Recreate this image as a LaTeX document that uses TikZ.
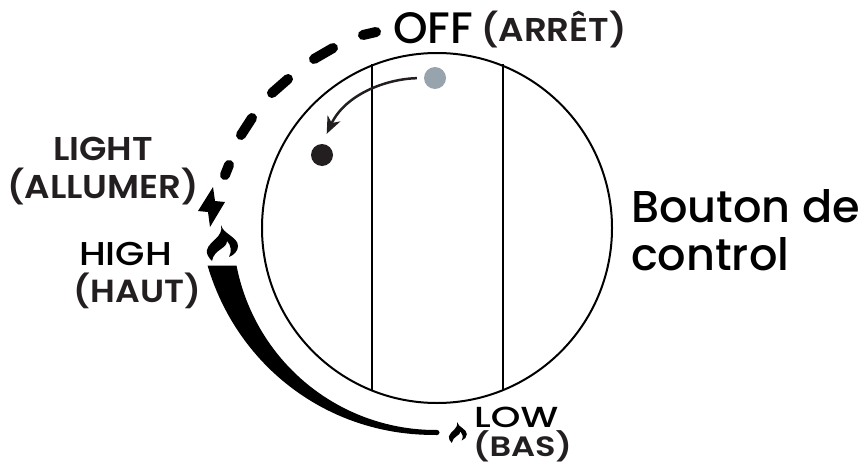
\documentclass[tikz,border=0pt]{standalone}
\usepackage{fontspec}
\setmainfont{Poppins}
\newfontfamily\semif{Poppins SemiBold}[FakeStretch=1.08]
\newfontfamily\medf{Poppins Medium}
\newfontfamily\medwide{Poppins Medium}[FakeStretch=1.15]
\newfontfamily\lowmed{Poppins Medium}[FakeStretch=1.3]
\newfontfamily\lowsemi{Poppins SemiBold}[FakeStretch=1.2]
\usetikzlibrary{arrows.meta}
\tikzset{
 x=1pt,y=-1pt,
 lab/.style={inner sep=0pt,anchor=base,font=\fontsize{33}{36}\semif,text=ink},
 medlab/.style={inner sep=0pt,anchor=base,font=\fontsize{33}{36}\medwide,text=black},
 big/.style={inner sep=0pt,anchor=base west,font=\fontsize{44.6}{50}\medf,text=black},
 dashpart/.style={line width=10pt,line cap=round},
 dot/.style={circle,inner sep=0pt,minimum size=22pt},
}
\definecolor{dotgray}{HTML}{97A3AD}
\definecolor{ink}{HTML}{231F20}
\newcommand{\flamepath}{(0,0) .. controls (2,9) and (17,12) .. (17,21) .. controls (17,26) and (13,30) .. (8,32) .. controls (11,26) and (10,20) .. (6,16) .. controls (6,24) and (-7,24) .. (-9,36) .. controls (-12,33) and (-15,29) .. (-14,25) .. controls (-12,16) and (3,12) .. (0,0) -- cycle}
\begin{document}
\begin{tikzpicture}
\useasboundingbox (0,0) rectangle (862,463);
% dial
\node[circle,draw,line width=2pt,minimum size=350pt,inner sep=0pt] (dial) at (437,228) {};
\coordinate (lt) at (372,64); \coordinate (lb) at (372,391);
\coordinate (rt) at (503,64); \coordinate (rb) at (503,391);
\draw[line width=2pt] (lt) -- (lb);
\draw[line width=2pt] (rt) -- (rb);
% dots and arrow
\node[dot,fill=dotgray] (g) at (435,78) {};
\node[dot,fill=ink] (b) at (322,155) {};
\draw[ink,line width=2.5pt,-{Stealth[length=17pt,width=14pt,inset=5pt]},shorten <=7pt,shorten >=11pt] (g.west) .. controls (385,79) and (345,95) .. (b.north);
% dashes
\draw[dashpart] (363,35) -- (376,32);
\draw[dashpart] (314,59) -- (333,48);
\draw[dashpart] (272,93) -- (288,79);
\draw[dashpart] (241,135) -- (252,118);
\draw[dashpart] (225,175) -- (229,165);
% bolt
\fill (213,187) -- (198,211) -- (208,212) -- (210,227) -- (225,202) -- (215,201) -- cycle;
% flame high
\begin{scope}[shift={(221,225)}]
\fill \flamepath;
\end{scope}
% swoosh
\fill plot[domain=169.4:90,samples=50] ({437+(202+2*(\x-90)/80)*cos(\x)},{228+(202+2*(\x-90)/80)*sin(\x)})
 -- plot[domain=90:170.7,samples=50] ({437+(207+25.5*((\x-89.9)/80.8)^1.6)*cos(\x)},{228+(207+25.5*((\x-89.9)/80.8)^1.6)*sin(\x)}) -- cycle;
\fill (437,432.5) circle (2.5pt);
% flame low
\begin{scope}[shift={(457,422)},scale=0.58]
\fill \flamepath;
\end{scope}
% labels
\node[inner sep=0pt,anchor=base west,font=\fontsize{44}{50}\medf] (off) at (393,43) {OFF};
\node[lab,anchor=base west] (arret) at (481,41) {(ARRÊT)};
\node[lab] (light) at (103,160) {LIGHT};
\node[lab] (allumer) at (103,198) {(ALLUMER)};
\node[medlab] (high) at (125.5,265) {HIGH};
\node[lab,font=\fontsize{32}{36}\semif] (haut) at (137.5,302) {(HAUT)};
\node[inner sep=0pt,anchor=base west,font=\fontsize{29}{32}\lowmed] (low) at (474,427) {LOW};
\node[inner sep=0pt,anchor=base west,font=\fontsize{28}{32}\lowsemi,text=ink] (bas) at (473,456) {(BAS)};
\node[big] (btn) at (631,222) {Bouton de};
\node[big] (ctl) at (631,270) {control};
\end{tikzpicture}
\end{document}
